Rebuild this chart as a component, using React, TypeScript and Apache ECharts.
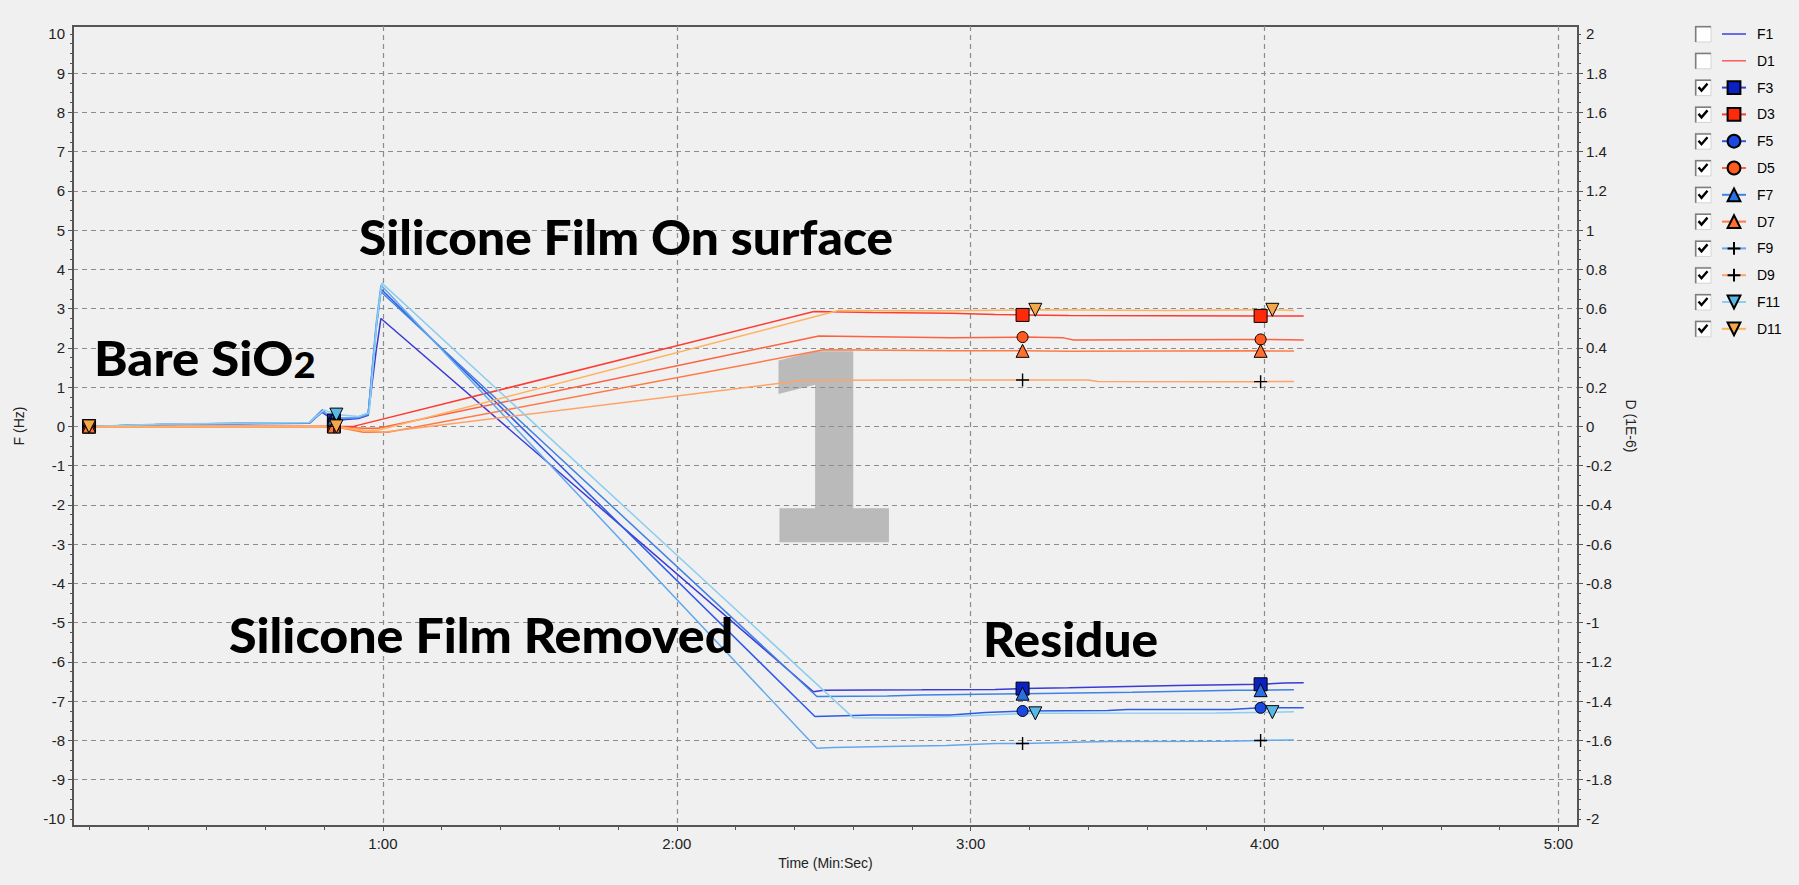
import React, { useEffect, useRef } from 'react';
import * as echarts from 'echarts';

// ---------- axis ranges / ticks ----------
const X_MIN = -3.27;
const X_MAX = 304;
const F_MIN = -10.18;
const F_MAX = 10.2;
const D_MIN = -2.036;
const D_MAX = 2.04;

const xMajorTicks = [60, 120, 180, 240, 300];
const xTickLabels = [60, 120, 180, 240, 300];
const fMajorTicks = [-9, -8, -7, -6, -5, -4, -3, -2, -1, 0, 1, 2, 3, 4, 5, 6, 7, 8, 9];
const fTickLabels = [-10, -9, -8, -7, -6, -5, -4, -3, -2, -1, 0, 1, 2, 3, 4, 5, 6, 7, 8, 9, 10];
const dMajorTicks = [-1.8, -1.6, -1.4, -1.2, -1, -0.8, -0.6, -0.4, -0.2, 0, 0.2, 0.4, 0.6, 0.8, 1, 1.2, 1.4, 1.6, 1.8];
const dTickLabels = [-2, -1.8, -1.6, -1.4, -1.2, -1, -0.8, -0.6, -0.4, -0.2, 0, 0.2, 0.4, 0.6, 0.8, 1, 1.2, 1.4, 1.6, 1.8, 2];

const range = (a: number, b: number, step: number) => {
  const out: number[] = [];
  const n = Math.round((b - a) / step);
  for (let i = 0; i <= n; i++) out.push(Math.round((a + i * step) * 1000) / 1000);
  return out;
};
const xMinorTicks = range(0, 300, 12);
const fMinorTicks = range(-10, 10, 0.25);
const dMinorTicks = range(-2, 2, 0.05);

// ---------- series data: [time (s), value] ----------
const F3 = [[0, 0], [15, 0.05], [30, 0.07], [45, 0.08], [47.6, 0.36], [50, 0.15], [55, 0.2], [57, 0.28], [58.6, 1.9], [59.6, 2.75], [147.9, -6.76], [150, -6.72], [170, -6.71], [185, -6.7], [190.6, -6.68], [200, -6.66], [222, -6.6], [239.2, -6.57], [244, -6.54], [248, -6.53]];
const F5 = [[0, 0], [15, 0.05], [30, 0.08], [45, 0.09], [47.6, 0.42], [50, 0.15], [55, 0.24], [57, 0.33], [58.6, 2.5], [59.6, 3.5], [148.2, -7.39], [160, -7.35], [176, -7.35], [183, -7.29], [190.6, -7.25], [208, -7.24], [212, -7.21], [233, -7.21], [239.2, -7.17], [248, -7.17]];
const F7 = [[0, 0], [15, 0.05], [30, 0.07], [45, 0.08], [47.6, 0.38], [50, 0.2], [55, 0.22], [57, 0.3], [58.6, 2.45], [59.6, 3.43], [148.6, -6.88], [163, -6.87], [170, -6.84], [190.6, -6.81], [213, -6.77], [234, -6.72], [239.2, -6.72], [246, -6.71]];
const F9 = [[0, 0], [15, 0.05], [30, 0.07], [45, 0.1], [47.6, 0.4], [50, 0.2], [55, 0.23], [57, 0.32], [58.6, 2.6], [59.6, 3.6], [148.6, -8.2], [152, -8.18], [160, -8.16], [175, -8.13], [185, -8.08], [190.6, -8.08], [208, -8.03], [232, -8.02], [239.2, -8.0], [246, -7.99]];
const F11 = [[0, 0], [15, 0.06], [30, 0.08], [45, 0.1], [48, 0.42], [50.5, 0.3], [55, 0.25], [57.2, 0.35], [58.8, 2.7], [59.8, 3.65], [156, -7.42], [165, -7.43], [176, -7.39], [190, -7.32], [193.2, -7.31], [230, -7.3], [241.6, -7.28], [246, -7.27]];

const D3 = [[0, 0], [30, 0], [45, 0], [50, 0], [54, 0], [148, 0.585], [160, 0.58], [176, 0.576], [185, 0.57], [190.6, 0.568], [200, 0.565], [239.2, 0.563], [248, 0.562]];
const D5 = [[0, 0], [30, 0], [45, 0], [50, 0], [56, -0.01], [59, -0.01], [149, 0.46], [176, 0.452], [190.6, 0.455], [199, 0.451], [201, 0.44], [239.2, 0.443], [248, 0.44]];
const D7 = [[0, 0], [30, 0], [45, 0], [50, 0], [56, -0.03], [61, -0.03], [150, 0.39], [176, 0.386], [190.6, 0.385], [200, 0.383], [239.2, 0.385], [246, 0.384]];
const D9 = [[0, 0], [30, 0], [45, 0], [50, 0], [55, -0.02], [60, -0.03], [146, 0.235], [170, 0.237], [190.6, 0.236], [204, 0.236], [206, 0.229], [239.2, 0.228], [246, 0.229]];
const D11 = [[0, 0], [30, 0], [45, 0], [50.5, 0], [56, -0.02], [59, -0.02], [153, 0.59], [176, 0.589], [193.2, 0.594], [220, 0.59], [241.6, 0.594], [246, 0.59]];

const markerTimes = [0, 50, 190.6, 239.2];
const markerTimes11 = [0, 50.5, 193.2, 241.6];

const legendNames = ['F1', 'D1', 'F3', 'D3', 'F5', 'D5', 'F7', 'D7', 'F9', 'D9', 'F11', 'D11'];
const legendChecked = [false, false, true, true, true, true, true, true, true, true, true, true];

const PLUS = 'path://M6,0L6,12M0,6L12,6';
const DOWN_TRI = 'path://M0,0L12,0L6,11Z';

const seriesDefs = [
  { name: 'F3', data: F3, axis: 0, line: '#3a3ad6', fill: '#0a22c4', symbol: 'rect', size: 13, marks: markerTimes },
  { name: 'D3', data: D3, axis: 1, line: '#ff3b30', fill: '#ff2a0a', symbol: 'rect', size: 13, marks: markerTimes },
  { name: 'F5', data: F5, axis: 0, line: '#2f5ae6', fill: '#1a48e0', symbol: 'circle', size: 11, marks: markerTimes },
  { name: 'D5', data: D5, axis: 1, line: '#ff6040', fill: '#ff5a20', symbol: 'circle', size: 11, marks: markerTimes },
  { name: 'F7', data: F7, axis: 0, line: '#3f82e6', fill: '#2a70e0', symbol: 'triangle', size: 13, marks: markerTimes },
  { name: 'D7', data: D7, axis: 1, line: '#ff7a45', fill: '#ff7030', symbol: 'triangle', size: 13, marks: markerTimes },
  { name: 'F9', data: F9, axis: 0, line: '#62a8ee', fill: '#000000', symbol: PLUS, size: 13, marks: markerTimes },
  { name: 'D9', data: D9, axis: 1, line: '#ffa468', fill: '#000000', symbol: PLUS, size: 13, marks: markerTimes },
  { name: 'F11', data: F11, axis: 0, line: '#8ccdf0', fill: '#5ab8e6', symbol: DOWN_TRI, size: 13, marks: markerTimes11 },
  { name: 'D11', data: D11, axis: 1, line: '#ffb25e', fill: '#f5a84a', symbol: DOWN_TRI, size: 13, marks: markerTimes11 },
];

const fmtTime = (v: number) => `${Math.floor(v / 60)}:${String(Math.round(v % 60)).padStart(2, '0')}`;
const fmtD = (v: number) => String(Math.round(v * 10) / 10);

const axisColor = '#555';
const gridLine = { show: true, lineStyle: { type: [5, 4] as any, color: '#8c8c8c', width: 1.2 } };
const labelFont = { fontFamily: '"Liberation Sans", Arial, sans-serif', fontSize: 15, color: '#222' };
const nameFont = { fontFamily: '"Liberation Sans", Arial, sans-serif', fontSize: 14, color: '#222' };
const annFont = { fontFamily: 'Lato, "Open Sans", sans-serif', fontWeight: 900, fontSize: 48, fill: '#000' };

function buildOption() {
  const series: any[] = [
    { name: 'F1', type: 'line', data: [], yAxisIndex: 0, symbol: 'none', lineStyle: { color: '#3f3fe0' }, itemStyle: { color: '#3f3fe0' } },
    { name: 'D1', type: 'line', data: [], yAxisIndex: 1, symbol: 'none', lineStyle: { color: '#ff5a5a' }, itemStyle: { color: '#ff5a5a' } },
  ];
  seriesDefs.forEach((s) => {
    series.push({
      name: s.name,
      type: 'line',
      xAxisIndex: 0,
      yAxisIndex: s.axis,
      symbol: s.symbol,
      symbolSize: s.size,
      showSymbol: true,
      z: 3,
      lineStyle: { color: s.line, width: 1.5 },
      itemStyle: { color: s.fill, borderColor: '#000', borderWidth: s.symbol === PLUS ? 1.4 : 1 },
      emphasis: { disabled: true },
      data: s.data.map((p) => (s.marks.includes(p[0]) ? { value: p } : { value: p, symbol: 'none' })),
    });
  });

  const graphics: any[] = [];
  // watermark "1"
  graphics.push({
    type: 'text', x: 829, y: 452, z: -10, silent: true, scaleX: 0.82,
    style: { text: '1', fontFamily: '"DejaVu Sans", sans-serif', fontWeight: 'bold', fontSize: 262, fill: '#bababa', align: 'center', verticalAlign: 'middle' },
  });
  // annotations
  graphics.push({ type: 'text', x: 359, y: 236, z: 100, scaleX: 1.035, style: { text: 'Silicone Film On surface', ...annFont, align: 'left', verticalAlign: 'middle' } });
  graphics.push({
    type: 'text', x: 94, y: 358, z: 100, scaleX: 1.06,
    style: {
      text: '{a|Bare SiO}{b|2}', align: 'left', verticalAlign: 'middle',
      rich: {
        a: { ...annFont, verticalAlign: 'bottom' },
        b: { ...annFont, fontSize: 36, verticalAlign: 'bottom' },
      },
    },
  });
  graphics.push({ type: 'text', x: 229, y: 634, z: 100, scaleX: 1.045, style: { text: 'Silicone Film Removed', ...annFont, align: 'left', verticalAlign: 'middle' } });
  graphics.push({ type: 'text', x: 983, y: 638, z: 100, scaleX: 1.035, style: { text: 'Residue', ...annFont, align: 'left', verticalAlign: 'middle' } });
  // legend checkboxes
  legendNames.forEach((n, i) => {
    const children: any[] = [
      { type: 'rect', shape: { x: 0, y: 0, width: 16, height: 16 }, style: { fill: '#ffffff', stroke: '#d4d4d4', lineWidth: 1 } },
      { type: 'polyline', shape: { points: [[0.75, 16], [0.75, 0.75], [16, 0.75]] }, style: { stroke: '#7d7d7d', lineWidth: 1.5, fill: null } },
    ];
    if (legendChecked[i]) {
      children.push({ type: 'polyline', shape: { points: [[3.5, 7.5], [6.5, 11], [12.5, 4]] }, style: { stroke: '#000', lineWidth: 2.4, fill: null } });
    }
    graphics.push({ type: 'group', x: 1695, y: 34 + 26.8 * i - 8, z: 50, children });
  });

  return {
    animation: false,
    backgroundColor: '#f0f0f0',
    grid: {
      left: 73, right: 221, top: 26, bottom: 59,
      show: true, borderColor: axisColor, borderWidth: 2, backgroundColor: 'transparent',
      containLabel: false, outerBoundsMode: 'none',
    },
    legend: {
      orient: 'vertical', left: 1721, top: 26, itemWidth: 24, itemHeight: 16, itemGap: 10.8, padding: 0,
      selectedMode: false,
      textStyle: { fontFamily: '"Liberation Sans", Arial, sans-serif', fontSize: 14, lineHeight: 16, color: '#000', padding: [0, 0, 0, 6] },
      data: legendNames.map((n) => {
        if (n === 'F1') return { name: n, icon: 'path://M0,0L24,0L24,1.5L0,1.5Z', itemStyle: { color: '#3f3fe0' } };
        if (n === 'D1') return { name: n, icon: 'path://M0,0L24,0L24,1.5L0,1.5Z', itemStyle: { color: '#ff5a5a' } };
        return { name: n };
      }),
    },
    xAxis: [
      {
        type: 'value', min: X_MIN, max: X_MAX, position: 'bottom',
        axisLine: { show: true, onZero: false, lineStyle: { color: axisColor, width: 2 } },
        axisTick: { show: true, customValues: xMajorTicks, length: 5, lineStyle: { color: axisColor } },
        axisLabel: { show: true, customValues: xTickLabels, formatter: fmtTime, margin: 10, hideOverlap: false, ...labelFont },
        splitLine: gridLine,
        minorTick: { show: false }, minorSplitLine: { show: false },
        name: 'Time (Min:Sec)', nameLocation: 'middle', nameGap: 29, nameTextStyle: nameFont,
      },
      {
        type: 'value', min: X_MIN, max: X_MAX, position: 'bottom',
        axisLine: { show: false, onZero: false },
        axisTick: { show: true, customValues: xMinorTicks, length: 4, lineStyle: { color: axisColor } },
        axisLabel: { show: false },
        splitLine: { show: false },
      },
    ],
    yAxis: [
      {
        type: 'value', min: F_MIN, max: F_MAX, position: 'left',
        axisLine: { show: true, onZero: false, lineStyle: { color: axisColor, width: 2 } },
        axisTick: { show: true, customValues: fMajorTicks, length: 5, lineStyle: { color: axisColor } },
        axisLabel: { show: true, customValues: fTickLabels, margin: 8, hideOverlap: false, ...labelFont },
        splitLine: gridLine,
        name: 'F (Hz)', nameLocation: 'middle', nameGap: 47, nameRotate: 90, nameTextStyle: nameFont,
      },
      {
        type: 'value', min: D_MIN, max: D_MAX, position: 'right',
        axisLine: { show: true, onZero: false, lineStyle: { color: axisColor, width: 2 } },
        axisTick: { show: true, customValues: dMajorTicks, length: 5, lineStyle: { color: axisColor } },
        axisLabel: { show: true, customValues: dTickLabels, formatter: fmtD, margin: 8, hideOverlap: false, ...labelFont },
        splitLine: { show: false },
        name: 'D (1E-6)', nameLocation: 'middle', nameGap: 46, nameRotate: -90, nameTextStyle: nameFont,
      },
      {
        type: 'value', min: F_MIN, max: F_MAX, position: 'left',
        axisLine: { show: false, onZero: false },
        axisTick: { show: true, customValues: fMinorTicks, length: 3, lineStyle: { color: axisColor } },
        axisLabel: { show: false }, splitLine: { show: false },
      },
      {
        type: 'value', min: D_MIN, max: D_MAX, position: 'right',
        axisLine: { show: false, onZero: false },
        axisTick: { show: true, customValues: dMinorTicks, length: 3, lineStyle: { color: axisColor } },
        axisLabel: { show: false }, splitLine: { show: false },
      },
    ],
    graphic: graphics,
    series,
  };
}

export default function App() {
  const ref = useRef<HTMLDivElement>(null);
  useEffect(() => {
    if (!ref.current) return;
    const chart = echarts.init(ref.current, null, { renderer: 'svg' });
    chart.setOption(buildOption() as any);
    return () => chart.dispose();
  }, []);
  return <div ref={ref} style={{ position: 'fixed', left: 0, top: 0, width: 1799, height: 885 }} />;
}
